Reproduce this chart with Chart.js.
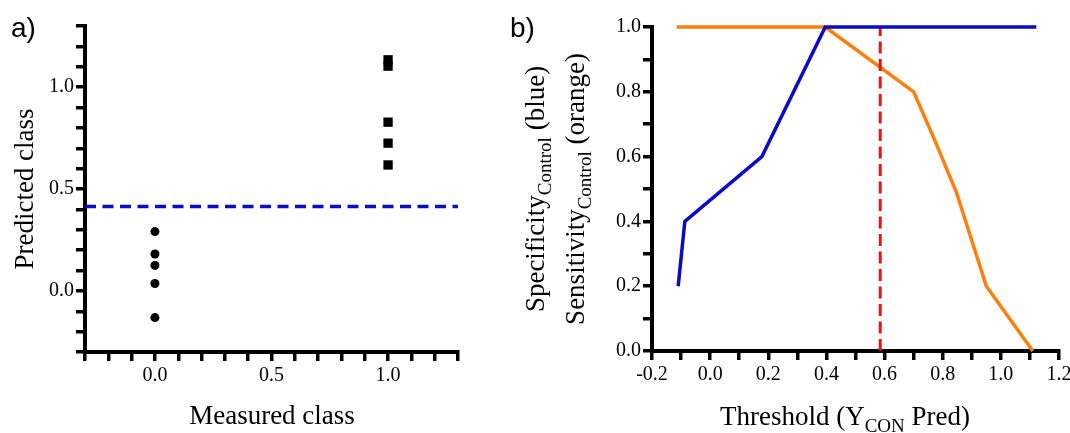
<!DOCTYPE html>
<html>
<head>
<script src="https://cdn.jsdelivr.net/npm/chart.js"></script>
<style>
  body { margin: 0; background: white; }
  canvas { position: absolute; top: 0; }
  #panelA { left: 0; }
  #panelB { left: 500px; }
</style>
</head>
<body>
<canvas id="panelA" width="500" height="433"></canvas>
<canvas id="panelB" width="570" height="433"></canvas>
<script>
// panel a) - predicted vs measured class
const controlMeasured = [0, 0, 0, 0, 0];
const controlPredicted = [0.291, 0.181, 0.125, 0.036, -0.131];
const caseMeasured = [1, 1, 1, 1, 1];
const casePredicted = [1.134, 1.103, 0.828, 0.725, 0.618];
const cutoffA = 0.414;
const axisA = [-0.3, 1.3];

// panel b) - specificity / sensitivity vs threshold
const specThreshold = [-0.110, -0.087, 0.178, 0.396, 1.122];
const specValue = [0.2, 0.4, 0.6, 1.0, 1.0];
const sensThreshold = [-0.115, 0.396, 0.70, 0.768, 0.847, 0.95, 1.11];
const sensValue = [1.0, 1.0, 0.80, 0.66, 0.49, 0.20, 0.0];
const cutoffB = 0.585;
const axisBx = [-0.2, 1.2];
const axisBy = [0, 1];

const serif = '"Liberation Serif", "Times New Roman", serif';
const blue = '#0a0ac8';
const orange = '#ff7f0a';
const red = '#ee1111';

function pts(xs, ys) {
    return xs.map((x, i) => ({ x: x, y: ys[i] }));
}

function onMultiple(v, step) {
    return Math.abs(v / step - Math.round(v / step)) < 1e-6;
}

function fmt(v) {
    if (Math.abs(v) < 1e-9) v = 0;
    return v.toFixed(1);
}

// draws text with subscripts, centred on cx, baseline at cy
function richText(ctx, parts, cx, cy, angle) {
    ctx.save();
    ctx.translate(cx, cy);
    ctx.rotate(angle);
    ctx.fillStyle = '#000';
    ctx.textBaseline = 'alphabetic';
    let total = 0;
    parts.forEach(p => {
        ctx.font = (p.sub ? 19 : 27) + 'px ' + serif;
        p.w = ctx.measureText(p.t).width;
        total += p.w;
    });
    let x = -total / 2;
    parts.forEach(p => {
        ctx.font = (p.sub ? 19 : 27) + 'px ' + serif;
        ctx.fillText(p.t, x, p.sub ? 7 : 0);
        x += p.w;
    });
    ctx.restore();
}

function axisOpts(min, max, labelStep, size, horizontal) {
    return {
        type: 'linear',
        min: min,
        max: max,
        border: { display: true, color: '#000', width: 4 },
        grid: {
            display: true,
            drawOnChartArea: false,
            drawTicks: true,
            tickLength: 9,
            lineWidth: 3.5,
            tickWidth: 3.5,
            tickColor: '#000',
            color: '#000'
        },
        ticks: {
            stepSize: 0.1,
            autoSkip: false,
            maxRotation: 0,
            padding: horizontal ? 3 : 2,
            color: '#000',
            font: { family: serif, size: 20 },
            callback: v => onMultiple(v, labelStep) ? fmt(v) : ''
        },
        afterFit: s => {
            if (horizontal) {
                s.height = size;
                s.paddingLeft = 0;
                s.paddingRight = 0;
            } else {
                s.width = size;
                s.paddingTop = 0;
                s.paddingBottom = 0;
            }
        }
    };
}

const titlesA = {
    id: 'titlesA',
    afterDraw(chart) {
        const ctx = chart.ctx;
        ctx.save();
        ctx.fillStyle = '#000';
        ctx.font = '28px "Liberation Sans", Arial, sans-serif';
        ctx.fillText('a)', 11, 37);
        ctx.restore();
        richText(ctx, [{ t: 'Predicted class' }], 33, 189, -Math.PI / 2);
        richText(ctx, [{ t: 'Measured class' }], 272, 424, 0);
    }
};

const titlesB = {
    id: 'titlesB',
    afterDraw(chart) {
        const ctx = chart.ctx;
        ctx.save();
        ctx.fillStyle = '#000';
        ctx.font = '28px "Liberation Sans", Arial, sans-serif';
        ctx.fillText('b)', 10, 37);
        ctx.restore();
        richText(ctx, [{ t: 'Specificity' }, { t: 'Control', sub: true }, { t: ' (blue)' }], 44, 189, -Math.PI / 2);
        richText(ctx, [{ t: 'Sensitivity' }, { t: 'Control', sub: true }, { t: ' (orange)' }], 84, 189, -Math.PI / 2);
        richText(ctx, [{ t: 'Threshold (Y' }, { t: 'CON', sub: true }, { t: ' Pred)' }], 345, 425, 0);
    }
};

new Chart(document.getElementById('panelA'), {
    type: 'scatter',
    data: {
        datasets: [
            {
                data: pts(controlMeasured, controlPredicted),
                pointStyle: 'circle',
                pointRadius: 4.5,
                backgroundColor: '#000',
                borderWidth: 0
            },
            {
                data: pts(caseMeasured, casePredicted),
                pointStyle: 'rect',
                pointRadius: 6.6,
                backgroundColor: '#000',
                borderWidth: 0
            },
            {
                type: 'line',
                data: pts(axisA, [cutoffA, cutoffA]),
                borderColor: blue,
                borderWidth: 3.5,
                borderDash: [11, 6.5],
                pointRadius: 0,
                clip: 5
            }
        ]
    },
    options: {
        responsive: false,
        animation: false,
        layout: { padding: { left: 0, top: 26, right: 42, bottom: 0 } },
        plugins: { legend: { display: false }, tooltip: { enabled: false } },
        scales: {
            x: axisOpts(axisA[0], axisA[1], 0.5, 81, true),
            y: axisOpts(axisA[0], axisA[1], 0.5, 85, false)
        }
    },
    plugins: [titlesA]
});

new Chart(document.getElementById('panelB'), {
    type: 'line',
    data: {
        datasets: [
            {
                data: pts(specThreshold, specValue),
                borderColor: blue,
                borderWidth: 3.5,
                pointRadius: 0,
                tension: 0,
                clip: 5,
                order: 1
            },
            {
                data: pts([cutoffB, cutoffB], axisBy),
                borderColor: red,
                borderWidth: 3,
                borderDash: [12, 5.5],
                pointRadius: 0,
                clip: 5,
                order: 2
            },
            {
                data: pts(sensThreshold, sensValue),
                borderColor: orange,
                borderWidth: 3.5,
                pointRadius: 0,
                tension: 0,
                clip: 5,
                order: 3
            }
        ]
    },
    options: {
        responsive: false,
        animation: false,
        layout: { padding: { left: 0, top: 27, right: 11, bottom: 0 } },
        plugins: { legend: { display: false }, tooltip: { enabled: false } },
        scales: {
            x: axisOpts(axisBx[0], axisBx[1], 0.2, 82, true),
            y: axisOpts(axisBy[0], axisBy[1], 0.2, 152, false)
        }
    },
    plugins: [titlesB]
});
</script>
</body>
</html>
